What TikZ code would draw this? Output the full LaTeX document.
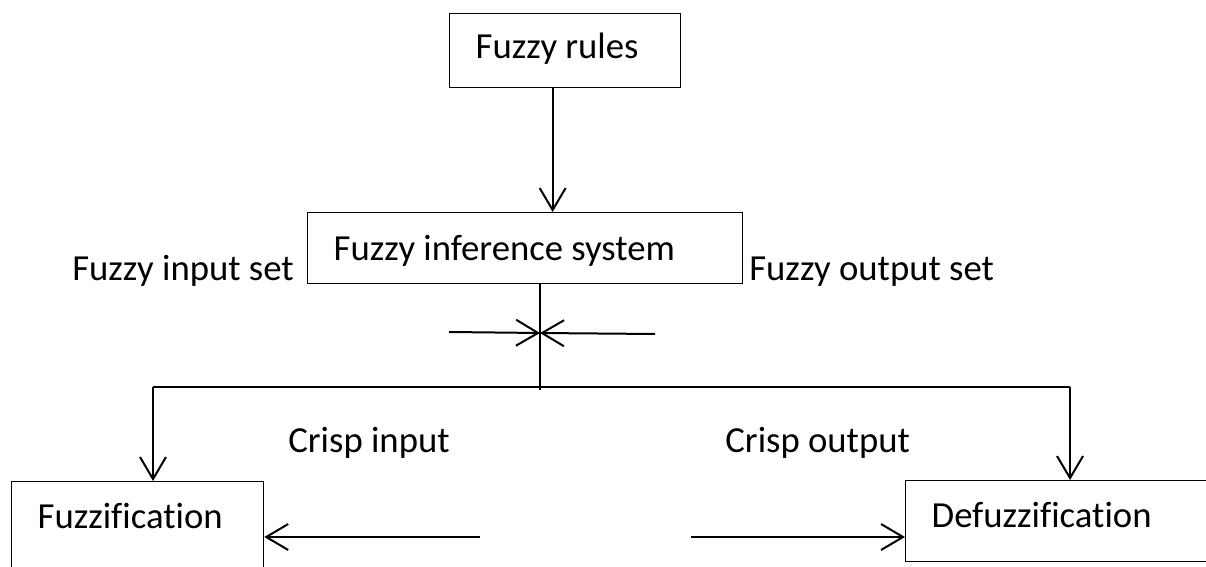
\documentclass[tikz,border=0pt]{standalone}
\usepackage{fontspec}
\setmainfont{Carlito}[Ligatures=NoCommon]
\usetikzlibrary{arrows.meta}

\begin{document}
\begin{tikzpicture}[x=0.02cm, y=-0.02cm,
    box/.style={rectangle, draw, line width=0.75pt, anchor=north west, align=flush left,
        inner xsep=0.52cm, inner ysep=0pt, font=\fontsize{20.9}{25}\selectfont},
    lbl/.style={anchor=base west, inner sep=0pt, font=\fontsize{20.9}{25}\selectfont},
    line/.style={line width=0.04cm},
    arr/.style={line width=0.04cm, -{Straight Barb[length=0.44cm, width=0.52cm]}}]
    \useasboundingbox (0,0) rectangle (1206,567);
    \clip (0,0) rectangle (1206,567);

    % blocks
    \node(rules) [box, text width=3.58cm, text height=0.9cm, text depth=0.58cm] at (449,13) {Fuzzy rules};
    \node(infer) [box, text width=7.66cm, text height=0.96cm, text depth=0.46cm] at (307,212) {Fuzzy inference system};
    \node(fuzz) [box, text width=4cm, text height=0.94cm, text depth=2cm] at (11,481) {Fuzzification};
    \node(defuzz) [box, text width=8cm, text height=0.94cm, text depth=0.68cm] at (905,480) {Defuzzification};

    % labels
    \node(fuzzyin) [lbl] at (72,281) {Fuzzy input set};
    \node(fuzzyout) [lbl] at (749,281) {Fuzzy output set};
    \node(crispin) [lbl] at (288,452) {Crisp input};
    \node(crispout) [lbl] at (725,452) {Crisp output};

    \coordinate (join) at (540,387);
    \coordinate (barl) at (153,387);
    \coordinate (barr) at (1070,387);
    \coordinate (meet) at (540,333);
    \coordinate (intail) at (449,332);
    \coordinate (outtail) at (655,334);
    \coordinate (citail) at (480,537);
    \coordinate (cotail) at (691,537);

    \draw[arr] ([xshift=-0.25cm]rules.south) -- ([xshift=-0.25cm]rules.south |- infer.north);
    \draw[line] (infer.south -| join) -- ([yshift=-0.06cm]join);
    \draw[line] (barl) -- (barr);
    \draw[arr] (barl) -- (barl |- fuzz.north);
    \draw[arr] (barr) -- (barr |- defuzz.north);
    \draw[arr] (intail) -- (meet);
    \draw[arr] (outtail) -- (meet);
    \draw[arr] (citail) -- (citail -| fuzz.east);
    \draw[arr] (cotail) -- (cotail -| defuzz.west);
\end{tikzpicture}
\end{document}
